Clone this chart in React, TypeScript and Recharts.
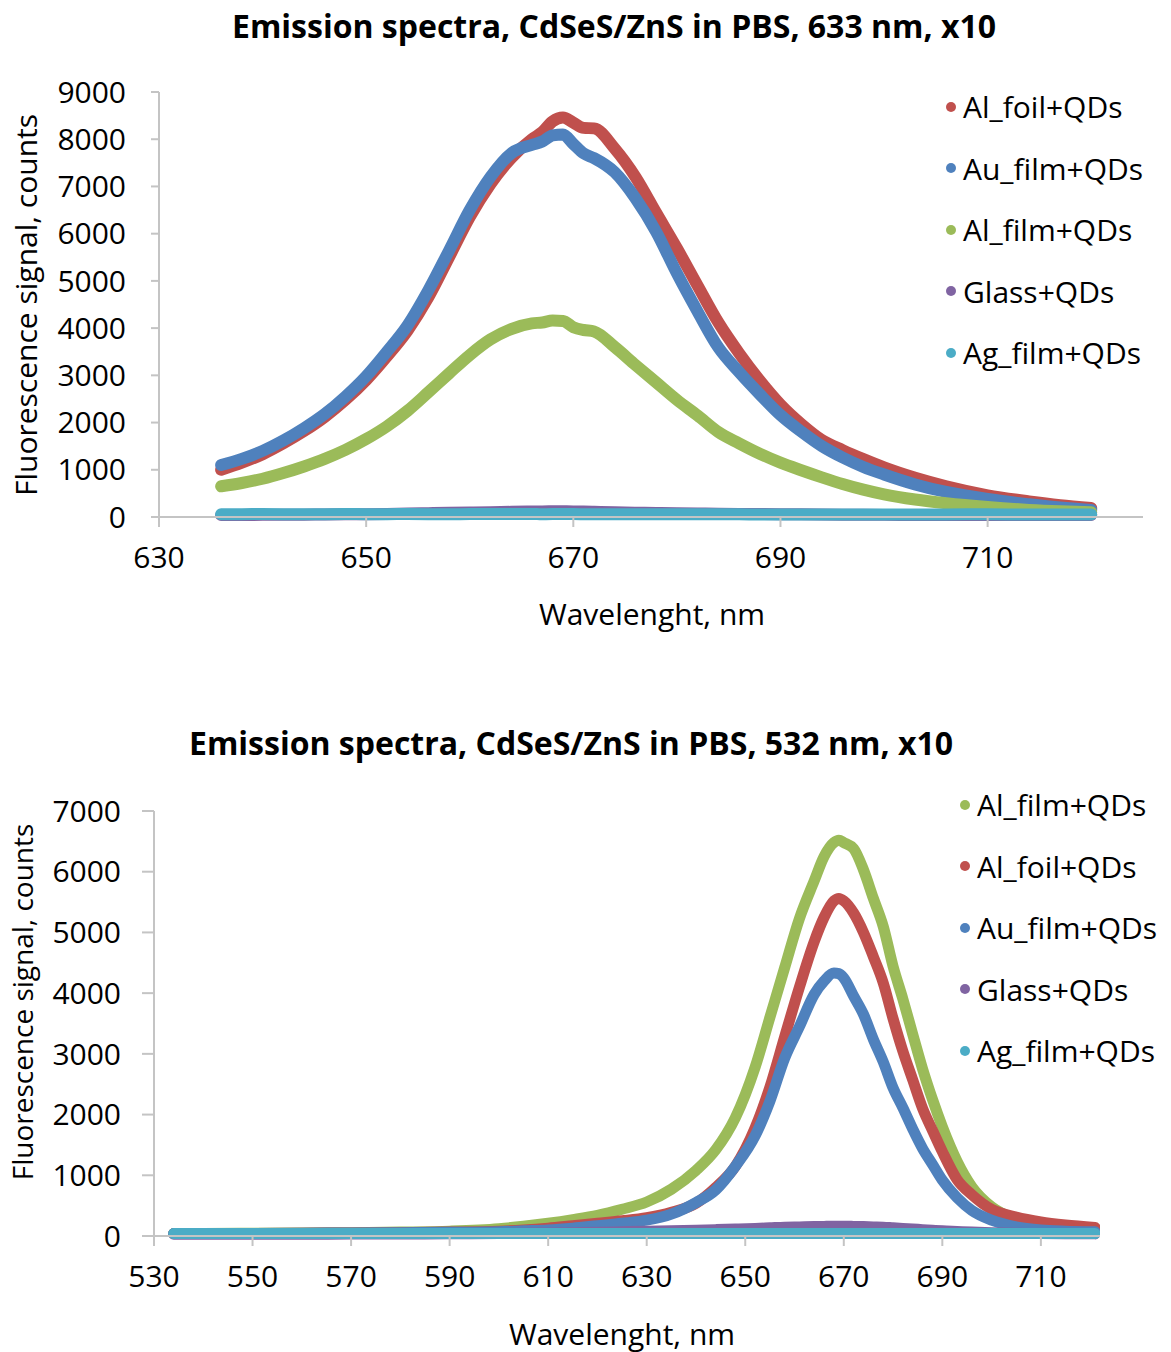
import { LineChart, Line, XAxis, YAxis } from "recharts"

// 633 nm excitation
const wl633 = [636, 638, 640, 642, 644, 646, 648, 650, 652, 654, 656, 658, 660, 662, 664, 666, 667, 668, 669, 670, 671, 672, 674, 676, 678, 680, 682, 684, 686, 688, 690, 692, 694, 696, 698, 700, 703, 706, 710, 714, 717, 720]
const alFoil633 = [1000, 1150, 1330, 1560, 1820, 2120, 2480, 2900, 3400, 3950, 4650, 5500, 6350, 7050, 7600, 8000, 8150, 8380, 8460, 8350, 8240, 8230, 7800, 7200, 6440, 5690, 4900, 4120, 3470, 2890, 2380, 1970, 1630, 1415, 1225, 1050, 830, 650, 460, 330, 250, 190]
const auFilm633 = [1100, 1230, 1400, 1620, 1880, 2180, 2550, 2980, 3500, 4060, 4800, 5640, 6500, 7200, 7700, 7880, 7950, 8080, 8100, 7900, 7700, 7600, 7300, 6750, 6040, 5160, 4350, 3590, 3070, 2600, 2160, 1810, 1500, 1260, 1060, 900, 690, 530, 380, 270, 200, 150]
const alFilm633 = [650, 720, 810, 930, 1070, 1230, 1420, 1650, 1920, 2250, 2640, 3040, 3430, 3760, 3980, 4100, 4120, 4160, 4150, 4020, 3960, 3930, 3600, 3220, 2850, 2480, 2150, 1800, 1560, 1340, 1150, 990, 840, 700, 580, 480, 370, 290, 210, 150, 120, 100]
const glass633 = [40, 42, 45, 48, 50, 55, 58, 60, 65, 72, 80, 90, 95, 100, 110, 115, 118, 120, 120, 118, 115, 110, 100, 92, 85, 80, 75, 70, 66, 62, 60, 56, 52, 50, 48, 45, 44, 42, 40, 40, 40, 40]
const agFilm633 = [60, 60, 62, 60, 58, 60, 62, 60, 60, 62, 60, 60, 62, 63, 62, 62, 60, 62, 63, 62, 60, 60, 58, 60, 60, 58, 58, 56, 56, 55, 55, 55, 54, 54, 55, 55, 54, 55, 56, 55, 55, 55]

// 532 nm excitation
const wl532 = [534, 540, 550, 560, 570, 580, 590, 600, 605, 610, 615, 620, 625, 630, 635, 640, 644, 648, 652, 655, 658, 661, 664, 666, 668, 669, 670, 672, 674, 676, 678, 680, 682, 684, 686, 688, 690, 693, 696, 700, 705, 710, 715, 721]
const alFilm532 = [40, 40, 45, 50, 55, 65, 80, 120, 160, 210, 270, 340, 440, 560, 770, 1080, 1420, 1950, 2780, 3600, 4420, 5230, 5850, 6250, 6480, 6520, 6480, 6380, 6030, 5560, 5100, 4440, 3900, 3320, 2750, 2250, 1800, 1230, 810, 480, 270, 170, 120, 90]
const alFoil532 = [40, 40, 42, 45, 50, 55, 65, 80, 100, 130, 170, 210, 250, 300, 390, 540, 800, 1150, 1780, 2450, 3280, 4100, 4850, 5250, 5520, 5560, 5520, 5320, 5000, 4600, 4170, 3580, 3040, 2570, 2100, 1740, 1390, 930, 680, 440, 310, 230, 180, 140]
const auFilm532 = [40, 40, 42, 45, 50, 55, 60, 70, 85, 100, 130, 170, 210, 260, 360, 550, 760, 1150, 1650, 2220, 2930, 3450, 3980, 4200, 4330, 4320, 4250, 3950, 3650, 3240, 2870, 2440, 2110, 1760, 1440, 1180, 920, 630, 420, 260, 150, 100, 80, 70]
const glass532 = [30, 30, 30, 30, 32, 34, 36, 40, 45, 50, 55, 60, 70, 80, 85, 95, 105, 115, 125, 135, 145, 150, 155, 158, 160, 160, 160, 158, 155, 150, 145, 135, 125, 115, 105, 95, 85, 75, 65, 55, 45, 40, 38, 35]
const agFilm532 = [40, 40, 40, 40, 40, 40, 40, 40, 40, 40, 40, 40, 40, 40, 40, 42, 42, 42, 42, 42, 42, 42, 42, 42, 42, 42, 42, 42, 42, 42, 42, 42, 40, 40, 40, 40, 40, 40, 40, 40, 40, 40, 40, 40]

const ticks633 = [630, 650, 670, 690, 710]
const ticks532 = [530, 550, 570, 590, 610, 630, 650, 670, 690, 710]
const yTicks633 = [0, 1000, 2000, 3000, 4000, 5000, 6000, 7000, 8000, 9000]
const yTicks532 = [0, 1000, 2000, 3000, 4000, 5000, 6000, 7000]

const COLORS: Record<string, string> = {
  "Al_foil+QDs": "#C0504D",
  "Au_film+QDs": "#4F81BD",
  "Al_film+QDs": "#9BBB59",
  "Glass+QDs": "#8064A2",
  "Ag_film+QDs": "#4BACC6",
}

const FONT = "'Open Sans', sans-serif"
const AXIS = "#c4c4c4"

type Series = { name: string; values: number[] }

function buildRows(wl: number[], series: Series[]) {
  return wl.map((w, i) => {
    const row: Record<string, number> = { wl: w }
    series.forEach((s) => (row[s.name] = s.values[i]))
    return row
  })
}

function SpectraLegend(props: { series: Series[]; left: number; top: number; fontSize: number }) {
  return (
    <div style={{ position: "absolute", left: props.left, top: props.top, fontFamily: FONT }}>
      {props.series.map((s) => (
        <div key={s.name} style={{ display: "flex", alignItems: "center", height: 61.5 }}>
          <span
            style={{
              display: "inline-block",
              width: 10,
              height: 10,
              borderRadius: 5,
              background: COLORS[s.name],
              marginRight: 7,
            }}
          />
          <span style={{ fontSize: props.fontSize, color: "#000", whiteSpace: "nowrap" }}>{s.name}</span>
        </div>
      ))}
    </div>
  )
}

function SpectraChart(props: {
  top: number
  height: number
  plotTop: number
  plotBottom: number
  yWidth: number
  right: number
  domain: [number, number]
  xTicks: number[]
  yTicks: number[]
  yMax: number
  series: Series[]
  wl: number[]
  stroke: number
  tickSizeY: number
}) {
  const rows = buildRows(props.wl, props.series)
  return (
    <div style={{ position: "absolute", left: 0, top: props.top }}>
      <LineChart
        width={1171}
        height={props.height}
        data={rows}
        margin={{ top: props.plotTop, right: props.right, bottom: 0, left: 0 }}
      >
        <XAxis
          dataKey="wl"
          type="number"
          domain={props.domain}
          ticks={props.xTicks}
          allowDataOverflow
          height={props.height - props.plotBottom}
          tick={{ fill: "#000", fontSize: 30, fontFamily: FONT }}
          tickSize={10}
          tickMargin={20}
          stroke={AXIS}
          strokeWidth={2}
        />
        <YAxis
          type="number"
          domain={[0, props.yMax]}
          ticks={props.yTicks}
          width={props.yWidth}
          tick={{ fill: "#000", fontSize: 30, fontFamily: FONT }}
          tickSize={props.tickSizeY}
          tickMargin={33 - props.tickSizeY}
          stroke={AXIS}
          strokeWidth={2}
          interval={0}
        />
        {props.series.map((s) => (
          <Line
            key={s.name}
            dataKey={s.name}
            type="monotone"
            stroke={COLORS[s.name]}
            strokeWidth={props.stroke}
            strokeLinecap="round"
            strokeLinejoin="round"
            dot={false}
            isAnimationActive={false}
          />
        ))}
      </LineChart>
    </div>
  )
}

export default function App() {
  const top: Series[] = [
    { name: "Al_foil+QDs", values: alFoil633 },
    { name: "Au_film+QDs", values: auFilm633 },
    { name: "Al_film+QDs", values: alFilm633 },
    { name: "Glass+QDs", values: glass633 },
    { name: "Ag_film+QDs", values: agFilm633 },
  ]
  const bottom: Series[] = [
    { name: "Al_film+QDs", values: alFilm532 },
    { name: "Al_foil+QDs", values: alFoil532 },
    { name: "Au_film+QDs", values: auFilm532 },
    { name: "Glass+QDs", values: glass532 },
    { name: "Ag_film+QDs", values: agFilm532 },
  ]
  const title: React.CSSProperties = {
    position: "absolute",
    fontFamily: FONT,
    fontWeight: 700,
    fontSize: 32,
    color: "#000",
    whiteSpace: "nowrap",
    transform: "translate(-50%, -50%)",
  }
  const label: React.CSSProperties = {
    position: "absolute",
    fontFamily: FONT,
    fontSize: 30,
    color: "#000",
    whiteSpace: "nowrap",
  }
  return (
    <div style={{ position: "absolute", left: 0, top: 0, width: 1171, height: 1352, background: "#fff", overflow: "hidden" }}>
      <SpectraChart
        top={0}
        height={680}
        plotTop={92}
        plotBottom={517}
        yWidth={159}
        right={28}
        domain={[630, 725]}
        xTicks={ticks633}
        yTicks={yTicks633}
        yMax={9000}
        series={top}
        wl={wl633}
        stroke={12}
        tickSizeY={8}
      />
      <SpectraChart
        top={700}
        height={652}
        plotTop={111}
        plotBottom={536}
        yWidth={154}
        right={71}
        domain={[530, 722]}
        xTicks={ticks532}
        yTicks={yTicks532}
        yMax={7000}
        series={bottom}
        wl={wl532}
        stroke={11}
        tickSizeY={12}
      />
      <SpectraLegend series={top} left={946} top={76} fontSize={30} />
      <SpectraLegend series={bottom} left={960} top={774} fontSize={30} />
      <div style={{ ...title, left: 614, top: 25 }}>Emission spectra, CdSeS/ZnS in PBS, 633 nm, x10</div>
      <div style={{ ...title, left: 571, top: 742 }}>Emission spectra, CdSeS/ZnS in PBS, 532 nm, x10</div>
      <div style={{ ...label, left: 652, top: 613, transform: "translate(-50%, -50%)" }}>Wavelenght, nm</div>
      <div style={{ ...label, left: 622, top: 1333, transform: "translate(-50%, -50%)" }}>Wavelenght, nm</div>
      <div style={{ ...label, left: 25, top: 305, transform: "translate(-50%, -50%) rotate(-90deg)" }}>
        Fluorescence signal, counts
      </div>
      <div style={{ ...label, fontSize: 28, left: 22, top: 1002, transform: "translate(-50%, -50%) rotate(-90deg)" }}>
        Fluorescence signal, counts
      </div>
    </div>
  )
}
